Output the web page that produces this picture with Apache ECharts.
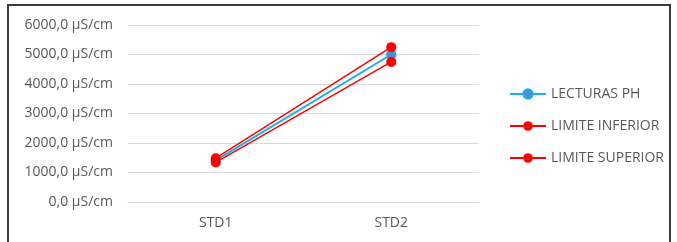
<!DOCTYPE html>
<html>
<head>
<meta charset="utf-8">
<script src="https://cdn.jsdelivr.net/npm/echarts@6/dist/echarts.min.js"></script>
<style>
    * { margin: 0; padding: 0; }
    body { width: 677px; height: 242px; background: #fff; overflow: hidden; position: relative; }
    #frame {
        position: absolute; left: 7px; top: 4px; width: 664px; height: 260px;
        border: 2px solid #3a3a3a; box-sizing: border-box;
    }
    #main { position: absolute; left: 0; top: 0; width: 677px; height: 242px; }
</style>
</head>
<body>
<div id="frame"></div>
<div id="main"></div>
<script>
    var categories = ['STD1', 'STD2'];
    var lecturas = [1413, 5000];
    var limiteInferior = [1342, 4750];
    var limiteSuperior = [1484, 5250];
    var yTicks = { min: 0, max: 6000, step: 1000 };

    var chart = echarts.init(document.getElementById('main'));
    var font = '"Open Sans", "Liberation Sans", sans-serif';

    var option = {
        animation: false,
        grid: { left: 128, right: 198, top: 25, bottom: 40 },
        legend: {
            orient: 'vertical',
            left: 504,
            top: 82,
            itemWidth: 36,
            itemHeight: 12,
            itemGap: 18,
            textStyle: { color: '#595959', fontSize: 14, fontFamily: font },
            data: ['LECTURAS PH', 'LIMITE INFERIOR', 'LIMITE SUPERIOR']
        },
        xAxis: {
            type: 'category',
            data: categories,
            axisLine: { lineStyle: { color: '#d9d9d9' } },
            axisTick: { show: false },
            axisLabel: { color: '#595959', fontSize: 14, fontFamily: font, margin: 14 }
        },
        yAxis: {
            type: 'value',
            min: yTicks.min,
            max: yTicks.max,
            interval: yTicks.step,
            axisLine: { show: false },
            axisTick: { show: false },
            splitLine: { lineStyle: { color: '#d9d9d9', width: 1 } },
            axisLabel: {
                color: '#595959', fontSize: 14, fontFamily: font, margin: 15,
                formatter: function (v) {
                    return v.toFixed(1).replace('.', ',') + ' µS/cm';
                }
            }
        },
        series: [
            {
                name: 'LECTURAS PH',
                type: 'line',
                data: lecturas,
                symbol: 'circle',
                symbolSize: 9,
                lineStyle: { color: '#1cb0e6', width: 2 },
                itemStyle: { color: '#4f8fd0', borderColor: '#1cb0e6', borderWidth: 1.5 }
            },
            {
                name: 'LIMITE INFERIOR',
                type: 'line',
                data: limiteInferior,
                symbol: 'circle',
                symbolSize: 10,
                lineStyle: { color: '#ff0000', width: 1.5 },
                itemStyle: { color: '#ff0000' }
            },
            {
                name: 'LIMITE SUPERIOR',
                type: 'line',
                data: limiteSuperior,
                symbol: 'circle',
                symbolSize: 10,
                lineStyle: { color: '#ff0000', width: 1.5 },
                itemStyle: { color: '#ff0000' }
            }
        ]
    };

    chart.setOption(option);
</script>
</body>
</html>
